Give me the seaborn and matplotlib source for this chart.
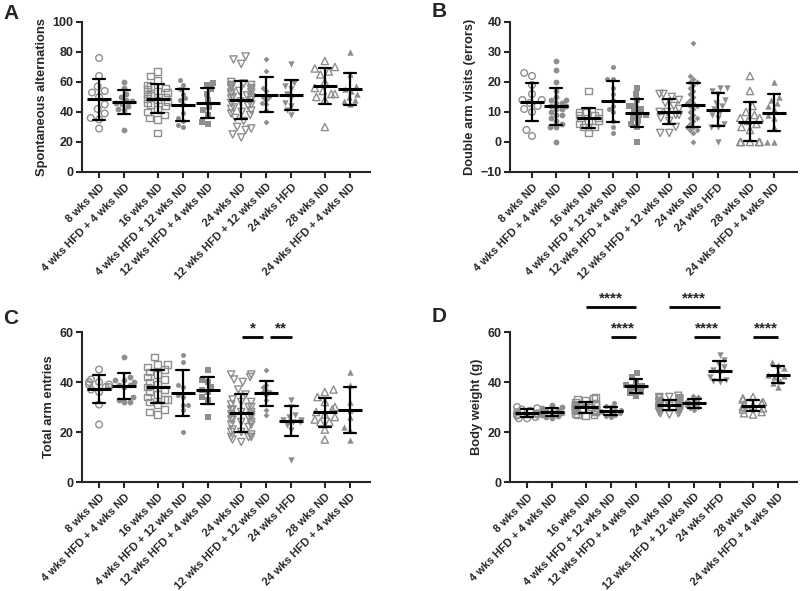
import numpy as np
import pandas as pd
import matplotlib
matplotlib.use("Agg")
import matplotlib.pyplot as plt
import seaborn as sns
import warnings
warnings.filterwarnings("ignore")

sns.set_style("ticks")
plt.rcParams["font.family"] = ["Liberation Sans", "DejaVu Sans"]
plt.rcParams["font.weight"] = "bold"
plt.rcParams["axes.labelweight"] = "bold"

# ---------------- data ----------------
labels_main = ["8 wks ND", "4 wks HFD + 4 wks ND", "16 wks ND", "4 wks HFD + 12 wks ND",
               "12 wks HFD + 4 wks ND", "24 wks ND", "12 wks HFD + 12 wks ND", "24 wks HFD",
               "28 wks ND", "24 wks HFD + 4 wks ND"]
labels_B = ["8 wks ND", "4 wks HFD + 4 wks ND", "16 wks ND", "4 wks HFD + 12 wks ND",
            "12 wks HFD + 4 wks ND", "12 wks HFD + 12 wks ND", "24 wks ND", "24 wks HFD",
            "28 wks ND", "24 wks HFD + 4 wks ND"]

spont_alternations = [
    [76, 64, 57, 53, 54, 50, 45, 42, 39, 36, 35, 29],
    [60, 56, 52, 50, 48, 47, 46, 45, 44, 42, 41, 28],
    [67, 64, 61, 58, 57, 56, 55, 54, 53, 52, 51, 50, 49, 48, 47, 46, 45, 44, 42, 40, 38, 36, 35, 26],
    [61, 58, 55, 52, 49, 48, 45, 39, 36, 34, 31, 30],
    [59, 58, 55, 52, 48, 43, 41, 38, 33, 32],
    [77, 75, 72, 60, 59, 58, 58, 57, 56, 56, 55, 54, 53, 53, 52, 51, 50, 50, 49, 48, 47, 46, 45,
     44, 43, 42, 41, 40, 39, 38, 36, 34, 30, 29, 28, 25, 23],
    [75, 67, 56, 54, 48, 50, 50, 46, 45, 41, 33],
    [72, 59, 57, 55, 52, 49, 46, 44, 41, 38],
    [74, 70, 69, 67, 65, 60, 56, 54, 52, 52, 50, 48, 30],
    [80, 65, 57, 55, 54, 52, 50, 48, 47, 45],
]

double_arm_visits = [
    [23, 22, 19, 16, 14, 14, 13, 12, 11, 10, 4, 2],
    [27, 24, 20, 17, 15, 14, 14, 13, 13, 12, 12, 11, 11, 10, 9, 9, 8, 7, 6, 5, 5, 0],
    [17, 10, 10, 10, 9, 9, 8, 8, 7, 7, 6, 5, 5, 3],
    [25, 21, 21, 18, 16, 14, 12, 11, 10, 7, 5, 3],
    [18, 16, 14, 12, 12, 11, 10, 9, 9, 8, 7, 6, 5, 0],
    [16, 16, 15, 14, 13, 12, 11, 10, 10, 9, 9, 8, 7, 5, 3, 3],
    [33, 22, 21, 20, 20, 19, 18, 17, 16, 15, 14, 13, 13, 12, 12, 11, 10, 9, 8, 8, 7, 6, 5, 5,
     4, 4, 3, 0],
    [18, 18, 17, 16, 14, 13, 12, 11, 10, 9, 8, 6, 5, 5, 0],
    [22, 17, 12, 10, 9, 8, 8, 7, 6, 5, 4, 0, 0, 0, 0, 0],
    [20, 15, 14, 13, 12, 11, 9, 8, 5, 0, 0],
]

total_arm_entries = [
    [45, 41, 40, 40, 39, 39, 38, 38, 37, 36, 31, 23],
    [50, 42, 41, 41, 40, 39, 39, 38, 34, 33, 32, 32],
    [50, 47, 47, 46, 45, 44, 43, 42, 41, 40, 39, 38, 37, 36, 35, 34, 33, 33, 32, 31, 29, 28, 27],
    [51, 48, 39, 38, 35, 34, 31, 31, 29, 20],
    [45, 41, 40, 38, 37, 36, 34, 33, 26],
    [43, 43, 42, 41, 40, 37, 35, 33, 32, 32, 31, 30, 30, 29, 29, 28, 28, 27, 27, 26, 26, 25, 25,
     24, 24, 23, 23, 22, 21, 20, 20, 19, 18, 17, 16, 18, 18],
    [45, 39, 38, 37, 36, 36, 35, 33, 29, 27],
    [33, 30, 27, 26, 25, 25, 24, 24, 23, 21, 9],
    [37, 36, 34, 32, 30, 29, 28, 27, 26, 25, 24, 24, 21, 17],
    [44, 39, 32, 29, 26, 22, 21, 17],
]

body_weight = [
    [30, 29.5, 29, 28.5, 28, 27.5, 27, 27, 26.5, 26, 25.5, 25.5],
    [31, 30, 29.5, 29, 28.5, 28, 28, 27.5, 27, 26.5, 26, 25.5],
    [34, 33.5, 33, 32.5, 32, 31.5, 31, 31, 30.5, 30.5, 30, 30, 29.5, 29.5, 29, 29, 28.5, 28.5,
     28, 28, 27.5, 27, 27, 26.5],
    [31.5, 30.5, 30, 29, 29, 28.5, 28, 28, 27.5, 27, 26.5, 26],
    [43.5, 42, 40, 39, 38.5, 38, 37.5, 36, 35.5, 34.5],
    [34.5, 34, 34, 33.5, 33.5, 33, 33, 32.5, 32.5, 32, 32, 32, 31.5, 31.5, 31, 31, 31, 30.5,
     30.5, 30.5, 30, 30, 30, 29.5, 29.5, 29.5, 29, 29, 29, 28.5, 28.5, 28, 28, 27.5, 27.5, 27, 32],
    [34.5, 34, 33, 32.5, 32, 31.5, 31, 30.5, 30, 29.5, 29],
    [51, 49, 47.5, 46, 45, 44, 42, 41, 40.5, 40],
    [34, 33.5, 33, 32, 31.5, 31, 30.5, 30, 29.5, 29, 28, 27.5, 27],
    [48, 47, 45.5, 44, 43, 42.5, 42, 40.5, 39.5, 38],
]

# ---------------- styling ----------------
positions = [0, 1, 2.333, 3.333, 4.333, 5.667, 6.667, 7.667, 9, 10]
marker_styles = [("o", False, 4.8), ("o", True, 4.2), ("s", False, 4.8), ("o", True, 3.6),
                 ("s", True, 4.4), ("v", False, 5.2), ("D", True, 3.0), ("v", True, 4.6),
                 ("^", False, 5.2), ("^", True, 4.6)]
GRAY = "#8e8e8e"

fig = plt.figure(figsize=(8, 5.91), dpi=100)


def draw_panel(rect, data, labels, ylabel, ylim, yticks, xlim, letter, letter_pos):
    ax = fig.add_axes(rect)
    frames = []
    for i, vals in enumerate(data):
        frames.append(pd.DataFrame({"pos": positions[i], "val": vals}))
    df = pd.concat(frames, ignore_index=True)
    for i, vals in enumerate(data):
        m, filled, sz = marker_styles[i]
        sub = pd.DataFrame({"pos": [positions[i]] * len(vals), "val": vals})
        n0 = len(ax.collections)
        sns.swarmplot(data=sub, x="pos", y="val", native_scale=True, ax=ax, marker=m,
                      size=sz, color=GRAY, linewidth=1.0 if not filled else 0,
                      edgecolor=GRAY, zorder=1, warn_thresh=1.0)
        coll = ax.collections[n0]
        if not filled:
            coll.set_facecolor("none")
            coll.set_edgecolor(GRAY)
            coll.set_linewidth(1.0)
    sns.pointplot(data=df, x="pos", y="val", native_scale=True, errorbar="sd",
                  capsize=0.5, linestyle="none", marker="_", markersize=17,
                  markeredgewidth=2.2, color="black", ax=ax,
                  err_kws={"linewidth": 1.6, "zorder": 5}, zorder=6)
    ax.set_xlim(*xlim)
    ax.set_ylim(*ylim)
    ax.set_yticks(yticks)
    ax.set_xticks(positions)
    ax.set_xticklabels(labels, rotation=45, ha="right", rotation_mode="anchor",
                       fontsize=8, fontweight="bold")
    ax.tick_params(axis="y", labelsize=9, width=1.5, length=4, pad=2)
    ax.tick_params(axis="x", width=1.5, length=4, pad=3)
    for lab in ax.get_yticklabels():
        lab.set_fontweight("bold")
    ax.set_xlabel("")
    ax.set_ylabel(ylabel, fontsize=9.3, fontweight="bold", labelpad=3)
    for s in ["top", "right"]:
        ax.spines[s].set_visible(False)
    for s in ["left", "bottom"]:
        ax.spines[s].set_linewidth(1.5)
    fig.text(letter_pos[0], letter_pos[1], letter, fontsize=15, fontweight="bold",
             ha="left", va="top")
    return ax


def sig(ax, x1, x2, y, txt, ty):
    ax.plot([x1, x2], [y, y], color="black", lw=2, clip_on=False, solid_capstyle="butt")
    ax.text((x1 + x2) / 2, ty, txt, ha="center", va="bottom", fontsize=11,
            fontweight="bold", clip_on=False)


axA = draw_panel([0.1025, 0.709, 0.36, 0.2538], spont_alternations, labels_main,
                 "Spontaneous alternations", (0, 100), [0, 20, 40, 60, 80, 100],
                 (-0.68, 10.8), "A", (0.004, 0.993))
axB = draw_panel([0.6375, 0.709, 0.359, 0.2538], double_arm_visits, labels_B,
                 "Double arm visits (errors)", (-10, 40), [-10, 0, 10, 20, 30, 40],
                 (-0.91, 10.95), "B", (0.54, 0.996))
axC = draw_panel([0.1025, 0.1844, 0.36, 0.2538], total_arm_entries, labels_main,
                 "Total arm entries", (0, 60), [0, 20, 40, 60],
                 (-0.68, 10.8), "C", (0.004, 0.478))
axD = draw_panel([0.6375, 0.1844, 0.359, 0.2538], body_weight, labels_main,
                 "Body weight (g)", (0, 60), [0, 20, 40, 60],
                 (-0.68, 10.76), "D", (0.54, 0.481))

sig(axC, 5.7, 6.55, 58, "*", 58.6)
sig(axC, 6.83, 7.7, 58, "**", 58.6)

sig(axD, positions[2], positions[4], 70, "****", 70.6)
sig(axD, positions[3], positions[4], 58, "****", 58.6)
sig(axD, positions[5], positions[7], 70, "****", 70.6)
sig(axD, positions[6], positions[7], 58, "****", 58.6)
sig(axD, positions[8], positions[9], 58, "****", 58.6)

fig.savefig("out.png", dpi=100)
